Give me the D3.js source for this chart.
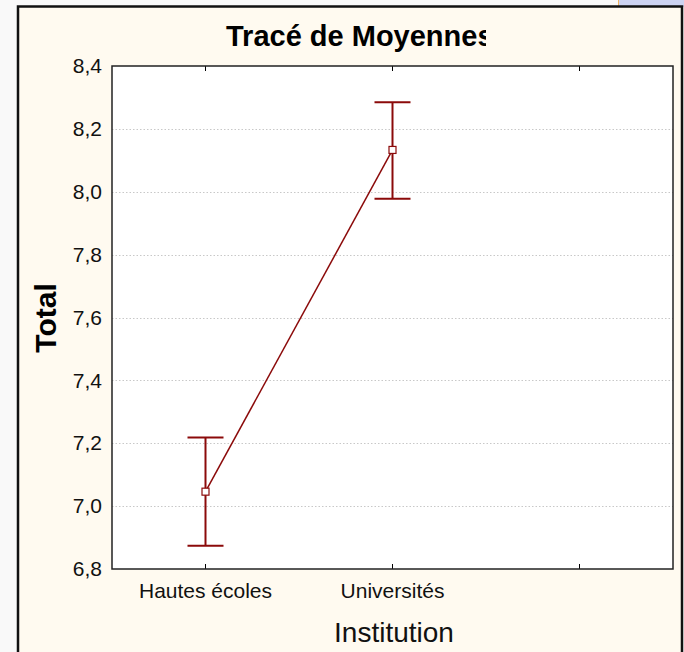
<!DOCTYPE html>
<html>
<head>
<meta charset="utf-8">
<script src="https://cdn.jsdelivr.net/npm/d3@7"></script>
<style>
  body { margin: 0; background: #f9f9f9; }
  svg { display: block; font-family: "Liberation Sans", Arial, sans-serif; }
</style>
</head>
<body>
<div id="chart"></div>
<script>
// data
const categories = ["Hautes écoles", "Universités", ""];
const means = [7.046, 8.133];
const lower = [6.874, 7.978];
const upper = [7.218, 8.285];
const yTicks = [6.8, 7.0, 7.2, 7.4, 7.6, 7.8, 8.0, 8.2, 8.4];

const W = 684, H = 652;
const plot = {left: 112, top: 66, right: 673, bottom: 569};
const red = "#8b0a0a";
const FONT = '"Liberation Sans", Arial, sans-serif';

let svg = d3.select("#chart")
    .append("svg")
    .attr("width", W)
    .attr("height", H);

// bits of the window behind the frame
svg.append("rect").attr("x", 618).attr("y", 0).attr("width", 66).attr("height", 7).attr("fill", "#cdd3f2");
svg.append("line").attr("x1", 618.5).attr("x2", 618.5).attr("y1", 0).attr("y2", 7).attr("stroke", "#f2b25a");

// outer frame
svg.append("rect")
    .attr("x", 18).attr("y", 6.5)
    .attr("width", 664).attr("height", 660)
    .attr("fill", "#fffaf0")
    .attr("stroke", "#111")
    .attr("stroke-width", 2.5);

let x = d3.scaleBand()
    .domain(categories)
    .range([plot.left, plot.right]);

let y = d3.scaleLinear()
    .domain([6.8, 8.4])
    .range([plot.bottom, plot.top]);

let cx = d => x(d) + x.bandwidth() / 2;

// plot background
svg.append("rect")
    .attr("x", plot.left).attr("y", plot.top)
    .attr("width", plot.right - plot.left).attr("height", plot.bottom - plot.top)
    .attr("fill", "white");

// grid
svg.append("g")
    .selectAll("line")
    .data(yTicks.slice(1, -1))
    .enter()
    .append("line")
    .attr("x1", plot.left).attr("x2", plot.right)
    .attr("y1", d => Math.round(y(d)) + 0.5).attr("y2", d => Math.round(y(d)) + 0.5)
    .attr("stroke", "#c8c8c8")
    .attr("stroke-dasharray", "1.5,2");

// y axis labels
svg.append("g")
    .attr("transform", `translate(${plot.left}, 0)`)
    .call(d3.axisLeft(y).tickValues(yTicks).tickSize(0).tickPadding(10)
        .tickFormat(d => d3.format(".1f")(d).replace(".", ",")))
    .call(g => g.select(".domain").remove())
    .selectAll("text")
    .style("font-family", FONT)
    .style("font-size", "21px")
    .attr("fill", "#111");

// x axis labels + inward ticks
svg.append("g")
    .attr("transform", `translate(0, ${plot.bottom})`)
    .call(d3.axisBottom(x).tickSize(-5).tickPadding(14))
    .call(g => g.select(".domain").remove())
    .selectAll("text")
    .style("font-family", FONT)
    .style("font-size", "21px")
    .attr("fill", "#111");

svg.append("g")
    .attr("transform", `translate(0, ${plot.top})`)
    .call(d3.axisTop(x).tickSize(-5).tickFormat(""))
    .call(g => g.select(".domain").remove());

// plot border
svg.append("rect")
    .attr("x", plot.left).attr("y", plot.top)
    .attr("width", plot.right - plot.left).attr("height", plot.bottom - plot.top)
    .attr("fill", "none")
    .attr("stroke", "#222")
    .attr("stroke-width", 1.5);

let pts = means.map((m, i) => ({cat: categories[i], m: m, lo: lower[i], hi: upper[i]}));

// mean line
svg.append("path")
    .datum(pts)
    .attr("fill", "none")
    .attr("stroke", red)
    .attr("stroke-width", 1.5)
    .attr("d", d3.line().x(d => cx(d.cat)).y(d => y(d.m)));

// error bars
let eb = svg.append("g").attr("stroke", red).attr("stroke-width", 2);
eb.selectAll(".v").data(pts).enter().append("line")
    .attr("x1", d => cx(d.cat)).attr("x2", d => cx(d.cat))
    .attr("y1", d => y(d.lo)).attr("y2", d => y(d.hi));
eb.selectAll(".hi").data(pts).enter().append("line")
    .attr("x1", d => cx(d.cat) - 18).attr("x2", d => cx(d.cat) + 18)
    .attr("y1", d => y(d.hi)).attr("y2", d => y(d.hi));
eb.selectAll(".lo").data(pts).enter().append("line")
    .attr("x1", d => cx(d.cat) - 18).attr("x2", d => cx(d.cat) + 18)
    .attr("y1", d => y(d.lo)).attr("y2", d => y(d.lo));

// markers
svg.selectAll(".pt").data(pts).enter().append("rect")
    .attr("x", d => cx(d.cat) - 3.5).attr("y", d => y(d.m) - 3.5)
    .attr("width", 7).attr("height", 7)
    .attr("fill", "white")
    .attr("stroke", red)
    .attr("stroke-width", 1.2);

// title (clipped at the right as in the original)
svg.append("clipPath").attr("id", "tclip")
    .append("rect").attr("x", 0).attr("y", 0).attr("width", 486).attr("height", 60);
svg.append("text")
    .attr("clip-path", "url(#tclip)")
    .attr("x", 226).attr("y", 46)
    .style("text-anchor", "start")
    .style("font-size", "29px")
    .style("font-weight", "bold")
    .text("Tracé de Moyennes");

svg.append("text")
    .attr("transform", `translate(56, 318) rotate(-90)`)
    .style("text-anchor", "middle")
    .style("font-size", "30px")
    .style("font-weight", "bold")
    .text("Total");

svg.append("text")
    .attr("x", 394).attr("y", 642)
    .style("text-anchor", "middle")
    .style("font-size", "28px")
    .attr("fill", "#111")
    .text("Institution");
</script>
</body>
</html>
